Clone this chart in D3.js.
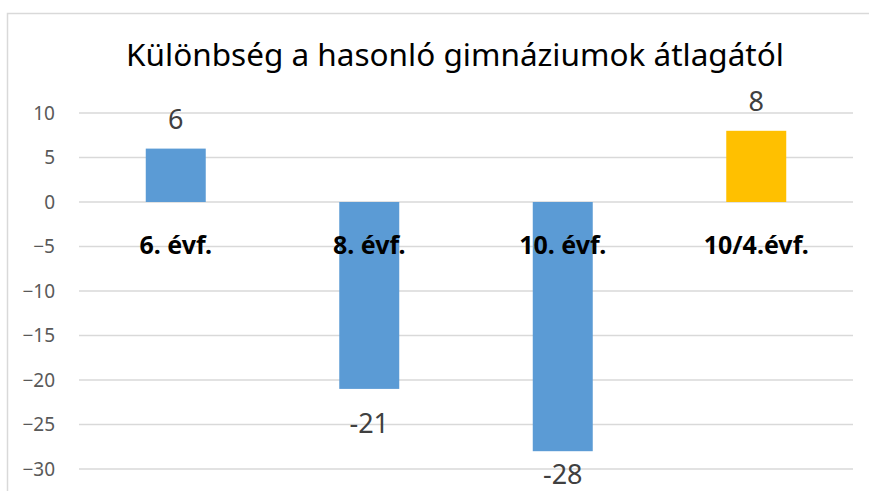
<!DOCTYPE html>
<html>
<head>
<meta charset="utf-8">
<script src="https://cdn.jsdelivr.net/npm/d3@7"></script>
<style>
  body { margin: 0; background: #fff; }
  text { font-family: "Noto Sans", "Open Sans", sans-serif; }
</style>
</head>
<body>
<div id="chart"></div>
<script>
// data
var categories = ["6. évf.", "8. évf.", "10. évf.", "10/4.évf."];
var values = [6, -21, -28, 8];
var barColors = ["#5b9bd5", "#5b9bd5", "#5b9bd5", "#ffc000"];
var yTicks = [10, 5, 0, -5, -10, -15, -20, -25, -30];

var width = 869, height = 491;
var margin = {top: 113, right: 16, bottom: 22, left: 79};
let plotW = width - margin.left - margin.right;
let plotH = height - margin.top - margin.bottom;

var svg = d3.select("#chart")
  .append("svg")
    .attr("width", width)
    .attr("height", height);

// chart border (cropped on the right and bottom)
svg.append("rect")
  .attr("x", 7.5).attr("y", 13.5)
  .attr("width", 900).attr("height", 600)
  .attr("fill", "none")
  .attr("stroke", "#d9d9d9")
  .attr("stroke-width", 1.5);

// title
svg.append("text")
  .attr("x", 455)
  .attr("y", 66)
  .attr("text-anchor", "middle")
  .style("font-size", "31.5px")
  .style("fill", "#000")
  .text("Különbség a hasonló gimnáziumok átlagától");

var g = svg.append("g")
  .attr("transform", "translate(" + margin.left + "," + margin.top + ")");

var x = d3.scaleBand()
  .domain(categories)
  .range([0, plotW])
  .paddingInner(0.69)
  .paddingOuter(0.345);

var y = d3.scaleLinear()
  .domain([-30, 10])
  .range([plotH, 0]);

// gridlines
g.append("g")
  .selectAll("line")
  .data(yTicks)
  .enter()
  .append("line")
    .attr("x1", 0)
    .attr("x2", plotW)
    .attr("y1", d => y(d))
    .attr("y2", d => y(d))
    .attr("stroke", "#d9d9d9")
    .attr("stroke-width", 1.5);

// y axis labels
var yAxis = g.append("g")
  .call(d3.axisLeft(y).tickValues(yTicks).tickSize(0).tickPadding(24));
yAxis.select(".domain").remove();
yAxis.selectAll("text")
  .style("font-family", "'Noto Sans', sans-serif")
  .style("font-size", "19px")
  .style("fill", "#595959");

// bars
g.append("g")
  .selectAll("rect")
  .data(d3.range(0, values.length))
  .enter()
  .append("rect")
    .attr("x", d => x(categories[d]))
    .attr("width", x.bandwidth())
    .attr("y", d => y(Math.max(0, values[d])))
    .attr("height", d => Math.abs(y(values[d]) - y(0)))
    .attr("fill", d => barColors[d]);

// category labels, sitting just below the zero line
g.append("g")
  .selectAll("text")
  .data(categories)
  .enter()
  .append("text")
    .attr("x", d => x(d) + x.bandwidth() / 2)
    .attr("y", y(0) + 52)
    .attr("text-anchor", "middle")
    .style("font-size", "25px")
    .style("font-weight", "bold")
    .style("fill", "#000")
    .text(d => d);

// value labels (negative ones kept inside the chart area)
g.append("g")
  .selectAll("text")
  .data(d3.range(0, values.length))
  .enter()
  .append("text")
    .attr("x", d => x(categories[d]) + x.bandwidth() / 2)
    .attr("y", d => values[d] >= 0 ? y(values[d]) - 20 : Math.min(y(values[d]) + 44, plotH + 15))
    .attr("text-anchor", "middle")
    .style("font-size", "27px")
    .style("fill", "#404040")
    .text(d => values[d]);
</script>
</body>
</html>
